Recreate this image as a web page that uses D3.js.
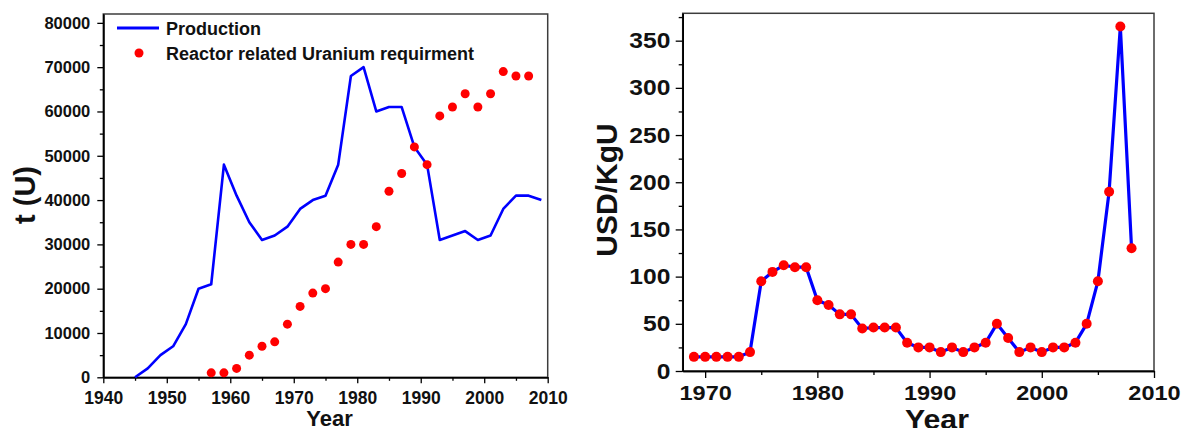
<!DOCTYPE html>
<html>
<head>
<meta charset="UTF-8">
<script src="https://cdn.jsdelivr.net/npm/d3@7"></script>
<style>
  body { margin: 0; background: #fff; }
  svg { display: block; font-family: "Liberation Sans", Arial, sans-serif; font-weight: bold; }
  .tick text { font-weight: bold; }
</style>
</head>
<body>
<div id="chart"></div>
<script>
// left panel : production vs reactor requirement (t U)
const prodYears = [1945,1947,1949,1951,1953,1955,1957,1959,1961,1963,1965,1967,1969,1971,1973,1975,1977,1979,1981,1983,1985,1987,1989,1991,1993,1995,1997,1999,2001,2003,2005,2007,2009];
const prodValues = [0,2000,5000,7000,12000,20000,21000,48000,41000,35000,31000,32000,34000,38000,40000,41000,48000,68000,70000,60000,61000,61000,52000,48000,31000,32000,33000,31000,32000,38000,41000,41000,40000];
const reqYears = [1957,1959,1961,1963,1965,1967,1969,1971,1973,1975,1977,1979,1981,1983,1985,1987,1989,1991,1993,1995,1997,1999,2001,2003,2005,2007];
const reqValues = [1000,1000,2000,5000,7000,8000,12000,16000,19000,20000,26000,30000,30000,34000,42000,46000,52000,48000,59000,61000,64000,61000,64000,69000,68000,68000];
const leftYTicks = [0,10000,20000,30000,40000,50000,60000,70000,80000];
const leftXTicks = [1940,1950,1960,1970,1980,1990,2000,2010];

// right panel : uranium price (USD/KgU)
const priceYears = d3.range(1969, 2009);
const priceValues = [15,15,15,15,15,20,95,105,112,110,110,75,70,60,60,45,46,46,46,30,25,25,20,25,20,25,30,50,35,20,25,20,25,25,30,50,95,190,365,130];
const rightYTicks = [0,50,100,150,200,250,300,350];
const rightXTicks = [1970,1980,1990,2000,2010];

const svg = d3.select("#chart").append("svg")
    .attr("width", 1183)
    .attr("height", 428);

svg.append("rect").attr("width", 1183).attr("height", 428).attr("fill", "#fff");

function styleAxis(g, size, sx) {
    g.attr("font-family", "'Liberation Sans', Arial, sans-serif");
    g.select(".domain").attr("stroke", "#000").attr("stroke-width", 1.5);
    g.selectAll(".tick line").attr("stroke", "#000").attr("stroke-width", 1.3);
    g.selectAll("text")
        .attr("font-size", size)
        .attr("fill", "#111")
        .attr("transform", "scale(" + sx + ",1)");
}

// ---------- left ----------
const x1 = d3.scaleLinear().domain([1940, 2010]).range([103.3, 547.7]);
const y1 = d3.scaleLinear().domain([0, 82000]).range([377.3, 14]);

svg.append("rect")
    .attr("x", x1(1940)).attr("y", y1(82000))
    .attr("width", x1(2010) - x1(1940)).attr("height", y1(0) - y1(82000))
    .attr("fill", "none").attr("stroke", "#3c3c3c").attr("stroke-width", 1.5);

// minor ticks
svg.append("g").attr("transform", "translate(" + x1(1940) + ",0)")
    .call(d3.axisLeft(y1).tickValues(d3.range(5000, 82000, 10000)).tickSize(3.5).tickFormat("").tickSizeOuter(0))
    .call(g => styleAxis(g, 16, 1));
svg.append("g").attr("transform", "translate(0," + y1(0) + ")")
    .call(d3.axisBottom(x1).tickValues(d3.range(1945, 2010, 10)).tickSize(3.5).tickFormat("").tickSizeOuter(0))
    .call(g => styleAxis(g, 17, 1));

svg.append("g").attr("transform", "translate(" + x1(1940) + ",0)")
    .call(d3.axisLeft(y1).tickValues(leftYTicks).tickFormat(d3.format("d")).tickSize(6).tickPadding(7).tickSizeOuter(0))
    .call(g => styleAxis(g, 16.5, 1));
svg.append("g").attr("transform", "translate(0," + y1(0) + ")")
    .call(d3.axisBottom(x1).tickValues(leftXTicks).tickFormat(d3.format("d")).tickSize(6).tickPadding(8).tickSizeOuter(0))
    .call(g => styleAxis(g, 17.5, 1));

const line1 = d3.line().x((d, i) => x1(prodYears[i])).y(d => y1(d));
svg.append("path")
    .datum(prodValues)
    .attr("d", line1)
    .attr("fill", "none")
    .attr("stroke", "#0000ff")
    .attr("stroke-width", 2.6)
    .attr("stroke-linejoin", "round");

svg.selectAll(".req")
    .data(reqValues)
  .enter().append("circle")
    .attr("class", "req")
    .attr("cx", (d, i) => x1(reqYears[i]))
    .attr("cy", d => y1(d))
    .attr("r", 4.5)
    .attr("fill", "#ff0000");

// legend
svg.append("line").attr("x1", 117).attr("x2", 159).attr("y1", 28).attr("y2", 28)
    .attr("stroke", "#0000ff").attr("stroke-width", 3);
svg.append("text").attr("x", 166).attr("y", 34.5).attr("font-size", 18).attr("fill", "#111").text("Production");
svg.append("circle").attr("cx", 139).attr("cy", 53).attr("r", 4.5).attr("fill", "#ff0000");
svg.append("text").attr("x", 166).attr("y", 59.5).attr("font-size", 18).attr("fill", "#111").text("Reactor related Uranium requirment");

svg.append("text").attr("x", 329.5).attr("y", 426).attr("text-anchor", "middle")
    .attr("font-size", 22).attr("fill", "#111").text("Year");
svg.append("text").attr("transform", "translate(35,195) rotate(-90)").attr("text-anchor", "middle")
    .attr("font-size", 29).attr("fill", "#111").text("t (U)");

// ---------- right ----------
const x2 = d3.scaleLinear().domain([1968, 2010]).range([682.7, 1154]);
const y2 = d3.scaleLinear().domain([0, 379]).range([371, 13.3]);

svg.append("rect")
    .attr("x", x2(1968)).attr("y", y2(379))
    .attr("width", x2(2010) - x2(1968)).attr("height", y2(0) - y2(379))
    .attr("fill", "none").attr("stroke", "#3c3c3c").attr("stroke-width", 1.5);

svg.append("g").attr("transform", "translate(" + x2(1968) + ",0)")
    .call(d3.axisLeft(y2).tickValues(d3.range(25, 379, 50)).tickSize(4).tickFormat("").tickSizeOuter(0))
    .call(g => styleAxis(g, 22, 1));
svg.append("g").attr("transform", "translate(0," + y2(0) + ")")
    .call(d3.axisBottom(x2).tickValues([1975, 1985, 1995, 2005]).tickSize(4).tickFormat("").tickSizeOuter(0))
    .call(g => styleAxis(g, 22, 1));

svg.append("g").attr("transform", "translate(" + x2(1968) + ",0)")
    .call(d3.axisLeft(y2).tickValues(rightYTicks).tickSize(7).tickPadding(4).tickSizeOuter(0))
    .call(g => styleAxis(g, 22, 1.12));
svg.append("g").attr("transform", "translate(0," + y2(0) + ")")
    .call(d3.axisBottom(x2).tickValues(rightXTicks).tickFormat(d3.format("d")).tickSize(7).tickPadding(7).tickSizeOuter(0))
    .call(g => styleAxis(g, 21, 1.12));

const line2 = d3.line().x((d, i) => x2(priceYears[i])).y(d => y2(d));
svg.append("path")
    .datum(priceValues)
    .attr("d", line2)
    .attr("fill", "none")
    .attr("stroke", "#0000ff")
    .attr("stroke-width", 3.2)
    .attr("stroke-linejoin", "round");

svg.selectAll(".price")
    .data(priceValues)
  .enter().append("circle")
    .attr("class", "price")
    .attr("cx", (d, i) => x2(priceYears[i]))
    .attr("cy", d => y2(d))
    .attr("r", 5)
    .attr("fill", "#ff0000");

svg.append("text").attr("transform", "translate(937,429) scale(1.08,1)").attr("text-anchor", "middle")
    .attr("font-size", 28).attr("fill", "#111").text("Year");
svg.append("text").attr("transform", "translate(617,190) rotate(-90)").attr("text-anchor", "middle")
    .attr("font-size", 30).attr("fill", "#111").text("USD/KgU");
</script>
</body>
</html>
